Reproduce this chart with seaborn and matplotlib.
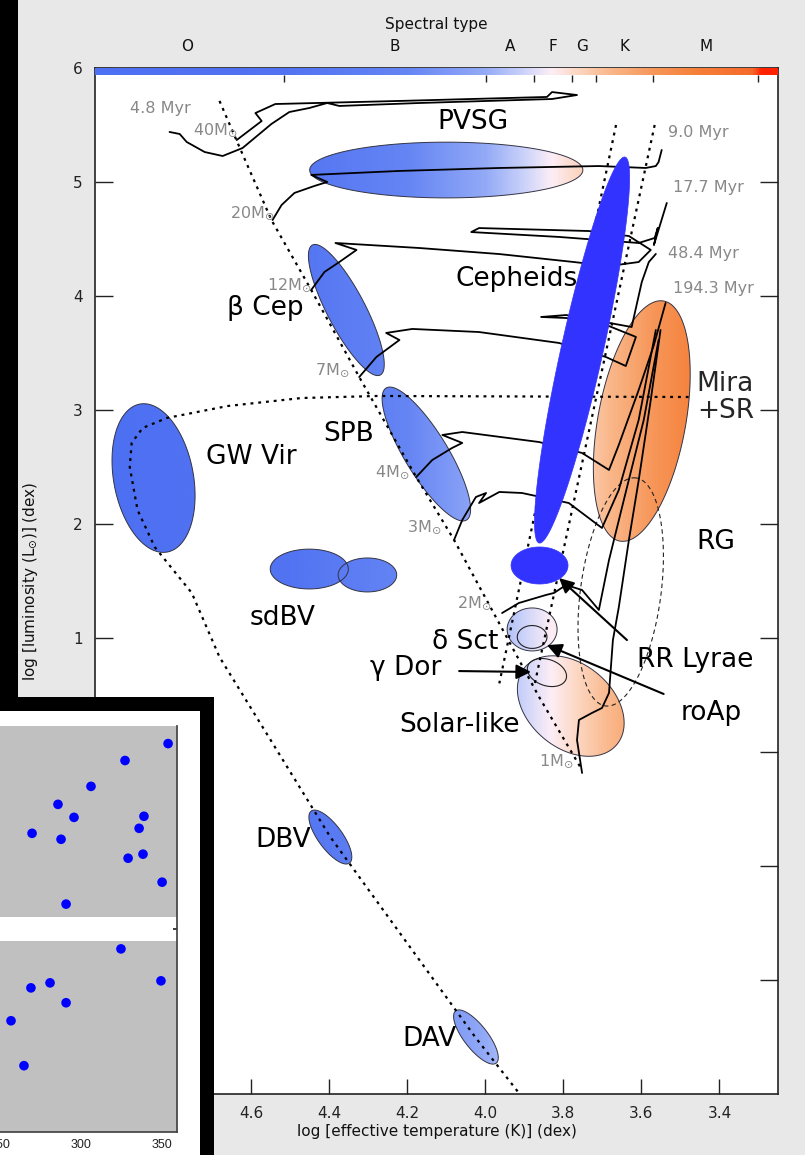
import numpy as np
import matplotlib
matplotlib.use("Agg")
import matplotlib.pyplot as plt
import matplotlib.transforms as mtransforms
from matplotlib.colors import LinearSegmentedColormap
from matplotlib.patches import Polygon, Rectangle
import seaborn as sns

# ---------------- data (log Teff, log L) ----------------
zams_T = [4.681, 4.630, 4.548, 4.446, 4.323, 4.177, 4.080, 3.980, 3.862, 3.752]
zams_L = [5.711, 5.307, 4.667, 4.053, 3.289, 2.412, 1.860, 1.228, 0.482, -0.158]

wd_T = [3.479, 4.277, 4.471, 4.660, 4.816, 4.878, 4.906, 4.911, 4.891, 4.847, 4.752, 4.681, 4.397, 4.026, 3.914]
wd_L = [3.114, 3.123, 3.105, 3.035, 2.930, 2.842, 2.711, 2.500, 2.123, 1.798, 1.395, 0.833, -0.746, -2.500, -2.991]

strip_blue_T = [3.665, 3.964]
strip_blue_L = [5.5, 0.602]
strip_red_T = [3.566, 3.873]
strip_red_L = [5.5, 0.602]

trk40_T = [4.637, 4.573, 4.589, 4.538, 4.220, 3.842, 3.829, 3.765, 3.829, 4.169, 4.374, 4.405, 4.451, 4.502, 4.548, 4.622, 4.673, 4.719, 4.765, 4.783, 4.809]
trk40_L = [5.368, 5.535, 5.605, 5.684, 5.711, 5.746, 5.789, 5.763, 5.728, 5.693, 5.667, 5.693, 5.649, 5.614, 5.509, 5.298, 5.228, 5.263, 5.351, 5.421, 5.439]
trk20_T = [4.545, 4.522, 4.489, 4.438, 4.405, 4.446, 4.220, 3.964, 3.709, 3.589, 3.563, 3.556, 3.548]
trk20_L = [4.667, 4.798, 4.904, 4.965, 5.000, 5.062, 5.097, 5.123, 5.140, 5.123, 5.140, 5.175, 5.281]
trk12_T = [4.446, 4.412, 4.374, 4.330, 4.384, 4.169, 3.964, 3.773, 3.683, 3.607, 3.576, 3.632, 3.735,
           4.016, 4.036, 3.811, 3.607, 3.566, 3.558, 3.568, 3.535]
trk12_L = [4.053, 4.211, 4.298, 4.404, 4.465, 4.421, 4.368, 4.298, 4.263, 4.298, 4.404, 4.526, 4.570,
           4.596, 4.561, 4.518, 4.465, 4.509, 4.597, 4.447, 4.816]
trk7_T = [4.323, 4.279, 4.220, 4.254, 4.187, 4.016, 3.811, 3.691, 3.640, 3.614, 3.709, 3.793, 3.857,
          3.793, 3.625, 3.599, 3.581, 3.563]
trk7_L = [3.289, 3.465, 3.614, 3.676, 3.711, 3.684, 3.588, 3.465, 3.386, 3.641, 3.772, 3.807, 3.816,
          3.833, 3.728, 4.123, 4.298, 4.369]
trk4_T = [4.177, 4.136, 4.085, 4.059, 4.110, 4.059, 3.862, 3.752, 3.683, 3.658, 3.607, 3.568, 3.538]
trk4_L = [2.412, 2.561, 2.667, 2.711, 2.781, 2.807, 2.719, 2.623, 2.474, 2.693, 3.175, 3.570, 3.939]
trk3_T = [4.080, 4.059, 4.024, 3.998, 4.016, 3.964, 3.906, 3.786, 3.701, 3.658, 3.607, 3.563]
trk3_L = [1.860, 2.035, 2.237, 2.272, 2.184, 2.281, 2.272, 2.184, 1.965, 2.298, 2.912, 3.702]
trk2_T = [3.957, 3.914, 3.845, 3.824, 3.793, 3.752, 3.709, 3.683, 3.645, 3.594, 3.556]
trk2_L = [1.219, 1.307, 1.377, 1.395, 1.465, 1.421, 1.246, 1.684, 2.211, 2.912, 3.614]
trk1_T = [3.752, 3.765, 3.760, 3.727, 3.701, 3.683, 3.673, 3.658, 3.632, 3.607, 3.576, 3.551]
trk1_L = [-0.184, 0.105, 0.281, 0.342, 0.386, 0.518, 0.982, 1.268, 1.860, 2.382, 3.088, 3.702]

# pulsator regions: centre, semi-major tip, axis ratio
reg_names = ["PVSG", "Cepheids", "RRLyr", "Mira", "GWVir", "sdBV1", "sdBV2", "bCep", "SPB",
             "dSct", "Solar", "DBV", "DAV"]
reg_cT = [4.100, 3.752, 3.861, 3.599, 4.850, 4.451, 4.302, 4.356, 4.151, 3.880, 3.781, 4.397, 4.024]
reg_cL = [5.105, 3.526, 1.636, 2.903, 2.403, 1.605, 1.553, 3.877, 2.614, 1.075, 0.403, -0.746, -2.500]
reg_tT = [3.750, 3.642, 3.788, 3.543, 4.885, 4.351, 4.227, 4.443, 4.254, 3.816, 3.663, 4.348, 3.972]
reg_tL = [5.105, 5.219, 1.636, 3.956, 3.052, 1.605, 1.553, 4.447, 3.193, 1.075, 0.065, -0.974, -2.729]
reg_ratio = [0.204, 0.106, 0.65, 0.36, 0.53, 0.51, 0.58, 0.26, 0.28, 0.86, 0.70, 0.375, 0.36]
reg_solid = [None, "#3333ff", "#3333ff", None, None, None, None, None, None, None, None, None, None]

# outline-only regions: roAp, gamma Dor, RG (dashed)
out_cT = [3.880, 3.842, 3.653]
out_cL = [1.009, 0.697, 1.404]
out_tT = [3.842, 3.793, 3.614]
out_tL = [1.009, 0.640, 2.404]
out_ratio = [0.77, 0.65, 0.35]

# spectral types
spec_letters = ["O", "B", "A", "F", "G", "K", "M"]
spec_centre_T = [4.765, 4.233, 3.937, 3.827, 3.752, 3.643, 3.435]
spec_bounds_T = [4.517, 3.998, 3.875, 3.778, 3.717, 3.571, 3.300]

# colour scale along log Teff
cmap_T = [5.0, 4.5, 4.2, 4.0, 3.9, 3.83, 3.76, 3.68, 3.57, 3.45, 3.31, 3.29, 3.25]
cmap_C = ["#4d6ff2", "#5274f2", "#6585f4", "#93aaf7", "#ccd3fa", "#fdeef6", "#fcd6c0",
          "#fab88c", "#f7975a", "#f57f38", "#f6692a", "#ff2200", "#ff2200"]

# labels
mass_names = ["40", "20", "12", "7", "4", "3", "2", "1"]
mass_T = [4.635, 4.540, 4.446, 4.348, 4.195, 4.113, 3.985, 3.775]
mass_L = [5.456, 4.728, 4.096, 3.351, 2.456, 1.974, 1.307, -0.079]

age_names = ["4.8 Myr", "9.0 Myr", "17.7 Myr", "48.4 Myr", "194.3 Myr"]
age_T = [4.911, 3.533, 3.520, 3.533, 3.520]
age_L = [5.649, 5.430, 4.956, 4.369, 4.070]

cls_names = ["PVSG", "Cepheids", "β Cep", "SPB", "GW Vir", "sdBV", "RG", "δ Sct", "γ Dor",
             "RR Lyrae", "roAp", "Solar-like", "DBV", "DAV"]
cls_T = [4.031, 3.919, 4.563, 4.351, 4.599, 4.520, 3.410, 4.052, 4.203, 3.461, 3.420, 4.067, 4.517, 4.144]
cls_L = [5.526, 4.149, 3.895, 2.790, 2.588, 1.175, 1.842, 0.965, 0.737, 0.807, 0.342, 0.237, -0.772, -2.518]
mira_T, mira_L = 3.458, 3.114

arrow_from_T = [4.067, 3.637, 3.543]
arrow_from_L = [0.710, 0.982, 0.509]
arrow_to_T = [3.883, 3.811, 3.842]
arrow_to_L = [0.702, 1.526, 0.938]

# inset (sky positions)
inset_lon = [353.8, 327.2, 306.2, 285.8, 295.7, 338.9, 269.8, 287.7, 335.9, 329.1, 338.3, 350.1,
             290.8, 324.7, 349.4, 269.1, 280.9, 290.8, 256.8, 264.8]
inset_lat = [13.7, 12.45, 10.54, 9.21, 8.25, 8.33, 7.07, 6.63, 7.44, 5.23, 5.53, 3.46,
             1.84, -1.47, -3.83, -4.35, -3.98, -5.45, -6.78, -10.1]
band_lo = [0.85, -15.0]
band_hi = [15.0, -0.85]

# ---------------- style ----------------
sns.set_theme(style="white")
plt.rcParams["font.family"] = ["DejaVu Sans"]
plt.rcParams["mathtext.fontset"] = "dejavusans"
SMALL = 11

W, H = 805, 1155
fig = plt.figure(figsize=(W / 100, H / 100), dpi=100)
fig.patch.set_facecolor("black")
fig.add_artist(Rectangle((18 / W, 0), 1 - 18 / W, 1, transform=fig.transFigure,
                         facecolor="#e8e8e8", edgecolor="none", zorder=-10))

ax = fig.add_axes([95 / W, 1 - 1094 / H, 683 / W, 1026 / H])
ax.set_facecolor("white")
ax.set_xlim(5.0, 3.25)
ax.set_ylim(-3, 6)

pos = [(5.0 - t) / 1.75 for t in cmap_T]
cmap = LinearSegmentedColormap.from_list("spec", list(zip(pos, cmap_C)))
def norm(t):
    return (5.0 - np.asarray(t)) / 1.75

# colour bar on top
Tg = np.linspace(5.0, 3.25, 800)
ax.imshow(cmap(norm(Tg))[None], extent=(5.0, 3.25, 5.94, 6.0), aspect="auto",
          zorder=6, interpolation="bilinear")
ax.vlines(spec_bounds_T, 5.875, 5.94, color="#222222", lw=1, zorder=6)
blend = mtransforms.blended_transform_factory(ax.transData, ax.transAxes)
for s, t in zip(spec_letters, spec_centre_T):
    ax.text(t, 1.0205, s, transform=blend, ha="center", va="center", fontsize=SMALL, color="#111111")
ax.text(0.5, 1.042, "Spectral type", transform=ax.transAxes, ha="center", va="center",
        fontsize=SMALL, color="#111111")

# ellipse helper
def ell(c, tip, ratio, n=240):
    tr = ax.transData
    cd = tr.transform(c)
    u = tr.transform(tip) - cd
    v = np.array([-u[1], u[0]]) * ratio
    t = np.linspace(0, 2 * np.pi, n)
    pts = cd + np.outer(np.cos(t), u) + np.outer(np.sin(t), v)
    return tr.inverted().transform(pts)

for i, name in enumerate(reg_names):
    pts = ell((reg_cT[i], reg_cL[i]), (reg_tT[i], reg_tL[i]), reg_ratio[i])
    if reg_solid[i] is not None:
        ax.add_patch(Polygon(pts, closed=True, facecolor=reg_solid[i], edgecolor=reg_solid[i],
                             lw=0.5, zorder=5))
        continue
    poly = Polygon(pts, closed=True, facecolor="none", edgecolor="#333344", lw=0.7, zorder=3)
    ax.add_patch(poly)
    t0, t1 = pts[:, 0].min(), pts[:, 0].max()
    l0, l1 = pts[:, 1].min(), pts[:, 1].max()
    ts = np.linspace(t1, t0, 256)
    im = ax.imshow(cmap(norm(ts))[None], extent=(t1, t0, l0, l1), aspect="auto",
                   zorder=2, interpolation="bilinear")
    im.set_clip_path(poly)

for i in range(len(out_cT)):
    pts = ell((out_cT[i], out_cL[i]), (out_tT[i], out_tL[i]), out_ratio[i])
    ls = (0, (4, 3)) if i == 2 else "-"
    ax.add_patch(Polygon(pts, closed=True, facecolor="none", edgecolor="#222222",
                         lw=0.8, ls=ls, zorder=3))

# dotted lines
dot = (0, (1.3, 2.2))
for T, L in [(zams_T, zams_L), (wd_T, wd_L), (strip_blue_T, strip_blue_L), (strip_red_T, strip_red_L)]:
    sns.lineplot(x=T, y=L, sort=False, estimator=None, color="black", lw=1.6,
                 linestyle=dot, ax=ax, zorder=4)

# evolutionary tracks
for T, L in [(trk40_T, trk40_L), (trk20_T, trk20_L), (trk12_T, trk12_L), (trk7_T, trk7_L),
             (trk4_T, trk4_L), (trk3_T, trk3_L), (trk2_T, trk2_L), (trk1_T, trk1_L)]:
    sns.lineplot(x=T, y=L, sort=False, estimator=None, color="black", lw=1.3, ax=ax, zorder=4)

# labels
for n, t, l in zip(mass_names, mass_T, mass_L):
    ax.text(t, l, n + r"M$_{\odot}$", ha="right", va="center", fontsize=11.5, color="#888888", zorder=7)
for n, t, l in zip(age_names, age_T, age_L):
    ax.text(t, l, n, ha="left", va="center", fontsize=11.5, color="#888888", zorder=7)
for n, t, l in zip(cls_names, cls_T, cls_L):
    ax.text(t, l, n, ha="center", va="center", fontsize=19, color="black", zorder=7)
ax.text(mira_T, mira_L, "Mira\n+SR", ha="left", va="center", fontsize=19, linespacing=1.05, zorder=7)

for ft, fl, tt, tl in zip(arrow_from_T, arrow_from_L, arrow_to_T, arrow_to_L):
    ax.annotate("", xy=(tt, tl), xytext=(ft, fl),
                arrowprops=dict(arrowstyle="-|>", color="black", lw=1.5, mutation_scale=22,
                                shrinkA=0, shrinkB=0), zorder=7)

# axes cosmetics
ax.set_xticks([4.6, 4.4, 4.2, 4.0, 3.8, 3.6, 3.4])
ax.set_xticklabels(["4.6", "4.4", "4.2", "4.0", "3.8", "3.6", "3.4"])
ax.set_yticks([-2, -1, 0, 1, 2, 3, 4, 5, 6])
ax.set_yticklabels(["−2", "−1", "0", "1", "2", "3", "4", "5", "6"])
ax.tick_params(axis="x", direction="in", length=10.5, width=1, bottom=True, top=False,
               labelsize=SMALL, pad=9, colors="#222222")
ax.tick_params(axis="y", direction="in", length=13, width=1, left=True, right=True,
               labelsize=SMALL, pad=9, colors="#222222")
ax.set_xlabel("log [effective temperature (K)] (dex)", fontsize=SMALL, labelpad=2, color="#111111")
ax.set_ylabel(r"log [luminosity (L$_{\odot}$)] (dex)", fontsize=SMALL, color="#111111")
ax.yaxis.set_label_coords(-0.08, 0.5)
for s in ax.spines.values():
    s.set_color("#222222")
    s.set_linewidth(1.2)

# ---------------- inset ----------------
fig.add_artist(Rectangle((0, 0), 214 / W, 458 / H, transform=fig.transFigure,
                         facecolor="black", edgecolor="none", zorder=20))
fig.add_artist(Rectangle((0, 0), 200 / W, 444 / H, transform=fig.transFigure,
                         facecolor="white", edgecolor="none", zorder=21))
axi = fig.add_axes([0, 1 - 1132 / H, 177 / W, 406 / H], zorder=22)
axi.set_facecolor("white")
axi.set_xlim(250, 359.3)
axi.set_ylim(-15, 15)
for lo, hi in zip(band_lo, band_hi):
    axi.fill_between([250, 359.3], lo, hi, color="#c0c0c0", lw=0, zorder=1)
sns.scatterplot(x=inset_lon, y=inset_lat, color="#0000ff", s=48, edgecolor="none", ax=axi, zorder=3)
axi.set_xticks([250, 300, 350])
axi.set_yticks([-10, 0, 10])
axi.yaxis.tick_right()
axi.tick_params(axis="x", direction="in", length=3, labelsize=9, pad=5, colors="#222222")
axi.tick_params(axis="y", direction="in", length=3, labelright=False, right=True, left=False)
for lbl in axi.get_xticklabels():
    lbl.set_family(["Liberation Sans", "DejaVu Sans"])
axi.spines["top"].set_visible(False)
axi.spines["left"].set_visible(False)
axi.spines["right"].set_color("#444444")
axi.spines["bottom"].set_color("#444444")
axi.set_xlabel("")
axi.set_ylabel("")

fig.savefig("out.png", dpi=100, facecolor=fig.get_facecolor())
